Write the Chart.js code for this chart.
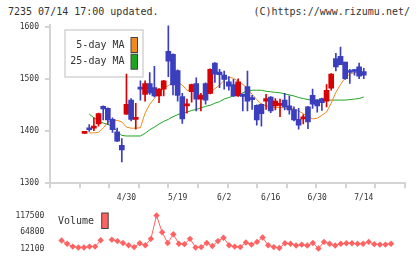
<!DOCTYPE html>
<html>
<head>
<meta charset="utf-8">
<script src="https://cdn.jsdelivr.net/npm/chart.js@4.4.0/dist/chart.umd.min.js"></script>
<style>
  body { margin: 0; background: #fff; }
  #wrap { position: relative; width: 420px; height: 259px; font-family: "DejaVu Sans Mono", monospace; color: #333; }
  .head { position: absolute; top: 7px; font-size: 10px; line-height: 10px; white-space: nowrap; }
  #mainBox { position: absolute; left: 0; top: 0; width: 420px; height: 205px; }
  #volBox { position: absolute; left: 0; top: 205px; width: 420px; height: 54px; }
</style>
</head>
<body>
<div id="wrap">
  <div class="head" style="left:8px">7235 07/14 17:00 updated.</div>
  <div class="head" style="right:10px">(C)https://www.rizumu.net/</div>
  <div id="mainBox"><canvas id="mainChart"></canvas></div>
  <div id="volBox"><canvas id="volChart"></canvas></div>
</div>
<script>
// Trading days shown (4/16 .. 7/14)
const dates = ['4/16','4/17','4/18','4/21','4/22','4/23','4/24','4/25','4/28','4/30',
  '5/1','5/2','5/7','5/8','5/9','5/12','5/13','5/14','5/15','5/16',
  '5/19','5/20','5/21','5/22','5/23','5/26','5/27','5/28','5/29','5/30',
  '6/2','6/3','6/4','6/5','6/6','6/9','6/10','6/11','6/12','6/13',
  '6/16','6/17','6/18','6/19','6/20','6/23','6/24','6/25','6/26','6/27',
  '6/30','7/1','7/2','7/3','7/4','7/7','7/8','7/9','7/10','7/11','7/14'];

const opens  = [1396,1404,1406,1414,1448,1444,1423,1399,1373,1433,
  1460,1423,1485,1471,1492,1484,1468,1481,1554,1548,
  1517,1467,1449,1476,1492,1462,1492,1473,1531,1514,
  1508,1495,1490,1468,1471,1486,1463,1450,1452,1458,
  1466,1449,1450,1460,1449,1442,1423,1424,1447,1469,
  1460,1463,1458,1483,1540,1544,1533,1515,1518,1524,1515];
const highs  = [1396,1413,1426,1435,1449,1445,1426,1406,1386,1510,
  1463,1454,1497,1497,1513,1525,1482,1498,1603,1549,
  1518,1473,1462,1491,1503,1473,1493,1520,1532,1519,
  1516,1505,1500,1501,1472,1516,1469,1451,1453,1471,
  1467,1463,1462,1473,1468,1447,1444,1432,1448,1481,
  1461,1464,1490,1511,1550,1562,1533,1519,1519,1531,1521];
const lows   = [1396,1400,1401,1410,1422,1413,1398,1380,1341,1432,
  1420,1404,1460,1458,1471,1466,1455,1468,1505,1470,
  1458,1415,1435,1456,1439,1439,1452,1472,1494,1484,
  1481,1479,1467,1467,1439,1439,1442,1412,1410,1442,
  1436,1441,1428,1441,1433,1420,1404,1414,1405,1444,
  1437,1440,1447,1479,1516,1528,1500,1492,1508,1501,1501];
const closes = [1396,1403,1408,1434,1443,1422,1403,1381,1364,1452,
  1423,1426,1481,1492,1474,1468,1481,1497,1535,1489,
  1469,1424,1451,1490,1462,1469,1460,1519,1510,1509,
  1500,1487,1468,1495,1467,1458,1461,1422,1434,1463,
  1439,1458,1452,1447,1441,1422,1412,1426,1418,1452,
  1449,1455,1479,1510,1524,1528,1501,1513,1515,1506,1508];

const ma5  = [null,1397,1397,1398,1406,1418,1421,1421,1418,1408,
  1406,1406,1407,1435,1452,1463,1475,1483,1488,1494,
  1494,1489,1479,1478,1476,1469,1470,1474,1482,1489,
  1498,1504,1502,1496,1490,1483,1471,1461,1452,1449,
  1447,1446,1446,1445,1444,1443,1439,1434,1428,1424,
  1425,1431,1437,1454,1475,1490,1503,1510,1513,1513,1514];
const ma25 = [null,1433,1426,1420,1416,1413,1410,1400,1392,1391,
  1391,1391,1391,1396,1403,1408,1414,1419,1423,1428,
  1432,1435,1437,1440,1442,1445,1448,1450,1454,1457,
  1462,1465,1468,1470,1474,1478,1479,1479,1479,1477,
  1476,1475,1474,1472,1470,1468,1465,1463,1461,1460,
  1460,1460,1460,1460,1460,1460,1460,1461,1462,1463,1466];

const volume = [null,37700,27100,18200,15500,15500,18200,18200,38400,null,
  40300,35800,29700,22600,16600,28700,22600,42900,117500,64000,
  29700,57700,27100,26000,42900,15500,16600,29700,20000,35800,
  46400,22600,18200,16600,31400,24500,33200,47200,22600,16600,
  13900,28700,27100,21700,24500,21700,29700,12100,33200,27100,
  21700,27100,28700,28700,27100,27100,33200,26000,24500,24500,27100];

const priceTicks = [1300, 1400, 1500, 1600];
const volTicks = [12100, 64800, 117500];
const labelIdx = [9, 20, 30, 40, 50, 60];

const xMin = -1.075, xMax = 62.5;
const upColor = '#d80000';
const downColor = '#3b3fbe';
const volColor = '#ff6262';
const axisColor = '#d4d4d4';
const tickFont = { family: 'DejaVu Sans Mono', size: 8 };

const candleColors = closes.map((c, i) => c >= opens[i] ? upColor : downColor);
const bodies = closes.map((c, i) => ({ x: i, y: [opens[i], c] }));
const wicks = closes.map((c, i) => ({ x: i, y: [lows[i], highs[i]] }));

// legend box inside the price chart, drawn under the candles
const maLegend = {
  id: 'maLegend',
  beforeDatasetsDraw(chart) {
    const ctx = chart.ctx;
    ctx.save();
    ctx.fillStyle = '#fff';
    ctx.fillRect(65, 30, 78, 47);
    ctx.strokeStyle = axisColor;
    ctx.lineWidth = 1.5;
    ctx.strokeRect(65, 30, 78, 47);
    ctx.font = '10px "DejaVu Sans Mono"';
    ctx.textAlign = 'right';
    ctx.textBaseline = 'middle';
    const items = chart.data.datasets.filter(d => d.type === 'line');
    items.forEach((d, k) => {
      const cy = 45 + k * 16.7;
      ctx.fillStyle = '#333';
      ctx.fillText(d.label, 124.5, cy);
      ctx.fillStyle = d.borderColor;
      ctx.fillRect(131, cy - 7.5, 6.5, 15);
      ctx.strokeStyle = '#444';
      ctx.lineWidth = 1;
      ctx.strokeRect(131, cy - 7.5, 6.5, 15);
    });
    ctx.restore();
  }
};

const volLegend = {
  id: 'volLegend',
  afterDraw(chart) {
    const ctx = chart.ctx;
    const d = chart.data.datasets[0];
    ctx.save();
    ctx.font = '10px "DejaVu Sans Mono"';
    ctx.textAlign = 'left';
    ctx.textBaseline = 'middle';
    ctx.fillStyle = '#333';
    ctx.fillText(d.label, 58, 16.5);
    ctx.fillStyle = d.borderColor;
    ctx.fillRect(101.7, 8, 6.5, 15.5);
    ctx.strokeStyle = '#444';
    ctx.lineWidth = 1;
    ctx.strokeRect(101.7, 8, 6.5, 15.5);
    ctx.restore();
  }
};

new Chart(document.getElementById('mainChart'), {
  type: 'bar',
  data: {
    datasets: [
      { type: 'bar', label: 'body', data: bodies, backgroundColor: candleColors,
        barThickness: 5, minBarLength: 2, grouped: false, order: 0, xAxisID: 'x', yAxisID: 'y' },
      { type: 'bar', label: 'wick', data: wicks, backgroundColor: candleColors,
        barThickness: 1, grouped: false, order: 1, xAxisID: 'x', yAxisID: 'y' },
      { type: 'line', label: '5-day MA', data: ma5.map((v, i) => ({ x: i, y: v })),
        borderColor: '#f08a1c', borderWidth: 1, pointRadius: 0, order: 2, xAxisID: 'x', yAxisID: 'y' },
      { type: 'line', label: '25-day MA', data: ma25.map((v, i) => ({ x: i, y: v })),
        borderColor: '#1ea51e', borderWidth: 1, pointRadius: 0, order: 3, xAxisID: 'x', yAxisID: 'y' }
    ]
  },
  options: {
    responsive: true,
    maintainAspectRatio: false,
    animation: false,
    layout: { padding: { left: 0, right: 15, top: 24.7, bottom: 0 } },
    plugins: { legend: { display: false }, tooltip: { enabled: false } },
    scales: {
      x: {
        type: 'linear', min: xMin, max: xMax, weight: 1,
        grid: { display: false, drawTicks: false },
        border: { display: false },
        afterBuildTicks: s => { s.ticks = labelIdx.map(v => ({ value: v })); },
        afterFit: s => { s.height = 16.7; },
        ticks: { autoSkip: false, maxRotation: 0, padding: 5, color: '#333', font: tickFont,
          callback: v => dates[v] }
      },
      xg: {
        type: 'linear', position: 'bottom', min: 0, max: 11, weight: 0,
        ticks: { display: false, stepSize: 1 },
        grid: { drawOnChartArea: false, tickLength: 5, color: axisColor, lineWidth: 2 },
        border: { color: axisColor, width: 2 },
        afterFit: s => { s.height = 5; }
      },
      y: {
        min: 1300, max: 1605, position: 'left',
        afterBuildTicks: s => { s.ticks = priceTicks.map(v => ({ value: v })); },
        afterFit: s => { s.width = 50; },
        grid: { drawOnChartArea: false, tickLength: 5, color: axisColor, lineWidth: 2 },
        border: { color: axisColor, width: 2 },
        ticks: { padding: 6, color: '#333', font: tickFont, callback: v => String(v) }
      }
    }
  },
  plugins: [maLegend]
});

new Chart(document.getElementById('volChart'), {
  type: 'line',
  data: {
    datasets: [{
      label: 'Volume',
      data: volume.map((v, i) => ({ x: i, y: v })),
      borderColor: volColor, backgroundColor: volColor,
      borderWidth: 1, pointStyle: 'rectRot', pointRadius: 3.2, pointBorderWidth: 0,
      spanGaps: false, clip: false
    }]
  },
  options: {
    responsive: true,
    maintainAspectRatio: false,
    animation: false,
    layout: { padding: { left: 0, right: 15, top: 4, bottom: 10 } },
    plugins: { legend: { display: false }, tooltip: { enabled: false } },
    scales: {
      x: { type: 'linear', min: xMin, max: xMax, display: false },
      y: {
        min: 12100, max: 117500,
        afterBuildTicks: s => { s.ticks = volTicks.map(v => ({ value: v })); },
        afterFit: s => { s.width = 50; },
        grid: { display: false, drawTicks: false },
        border: { display: false },
        ticks: { padding: 5.7, color: '#333', font: tickFont, callback: v => String(v) }
      }
    }
  },
  plugins: [volLegend]
});
</script>
</body>
</html>
